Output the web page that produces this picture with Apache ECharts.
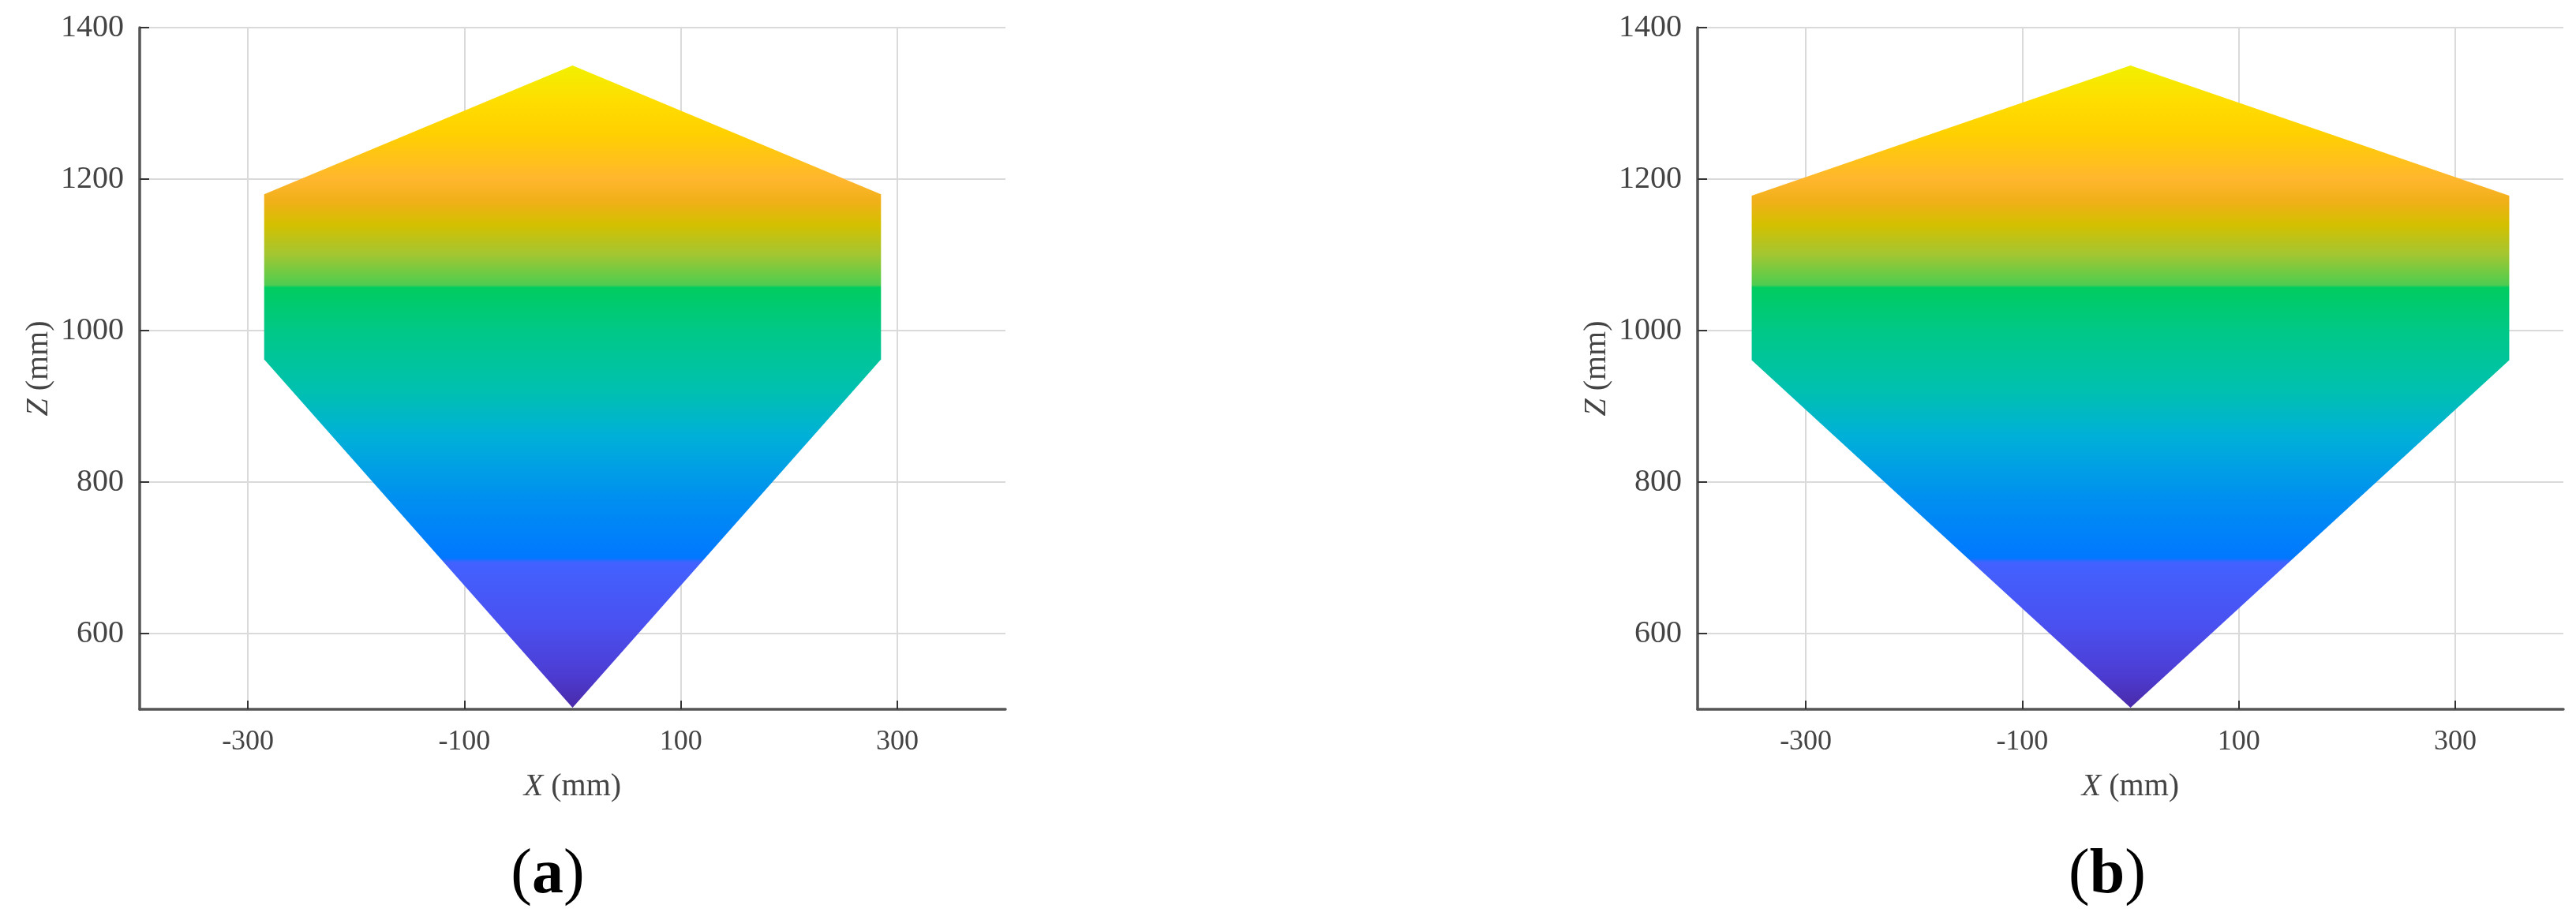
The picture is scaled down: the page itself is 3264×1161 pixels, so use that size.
<!DOCTYPE html>
<html>
<head>
<meta charset="utf-8">
<script src="https://cdn.jsdelivr.net/npm/echarts@6/dist/echarts.min.js"></script>
<style>
html,body{margin:0;padding:0;background:#fff;}
#c{width:3264px;height:1161px;}
</style>
</head>
<body>
<div id="c"></div>
<script>
// ---- data ----
const panelLabels = ['a', 'b'];
// polygon vertices (X, Z) in mm
const xA = [0, 285, 285, 0, -285, -285];
const zA = [1350, 1180, 962, 502, 962, 1180];
const xB = [0, 350, 350, 0, -350, -350];
const zB = [1350, 1178, 961, 502, 961, 1178];
const xTicks = [-300, -100, 100, 300];
const zTicks = [600, 800, 1000, 1200, 1400];
// colour map by Z value
const colorZ = [1350, 1300, 1260, 1200, 1170, 1140, 1100, 1070, 1060, 1057, 1000, 920, 860, 780, 700, 694, 610, 545, 502];
const colorC = ['#f2f000', '#ffdc00', '#ffd000', '#ffb62e', '#f0b018', '#d4c000', '#a2c632', '#62cc48', '#4fcb52', '#00cc60', '#00c886', '#00c0b0', '#00b0d8', '#0090f0', '#0078ff', '#4262ff', '#4a50f0', '#4c3cd2', '#4a2aa8'];

const chart = echarts.init(document.getElementById('c'), null, {renderer: 'canvas'});

const FONT = 'Liberation Serif';
const gridsPx = [{left: 177, top: 35, width: 1097, height: 864}, {left: 2151, top: 35, width: 1097, height: 864}];
const plain = v => String(v);

function makeX(i) {
  return {
    type: 'value', gridIndex: i, min: -400, max: 400,
    axisLine: {show: true, onZero: false, lineStyle: {color: '#555', width: 3.5}},
    axisTick: {show: true, inside: true, length: 11, customValues: xTicks, lineStyle: {color: '#333', width: 2}},
    axisLabel: {customValues: xTicks, formatter: plain, fontFamily: FONT, fontSize: 36, color: '#444', margin: 24},
    splitLine: {show: true, lineStyle: {color: '#dadada', width: 2}},
    name: '{i|X} (mm)', nameLocation: 'middle', nameGap: 78,
    nameTextStyle: {fontFamily: FONT, fontSize: 40, color: '#444',
      rich: {i: {fontFamily: FONT, fontSize: 40, fontStyle: 'italic', color: '#444'}}}
  };
}
function makeY(i) {
  return {
    type: 'value', gridIndex: i, min: 500, max: 1400,
    axisLine: {show: true, onZero: false, lineStyle: {color: '#555', width: 3.5}},
    axisTick: {show: true, inside: true, length: 12, customValues: zTicks, lineStyle: {color: '#333', width: 2}},
    axisLabel: {customValues: zTicks, formatter: plain, fontFamily: FONT, fontSize: 40, color: '#444', margin: 20},
    splitLine: {show: true, lineStyle: {color: '#dadada', width: 2}},
    name: '{i|Z} (mm)', nameLocation: 'middle', nameGap: 108,
    nameTextStyle: {fontFamily: FONT, fontSize: 40, color: '#444',
      rich: {i: {fontFamily: FONT, fontSize: 40, fontStyle: 'italic', color: '#444'}}}
  };
}

function polySeries(i, xs, zs) {
  const data = xs.map((x, k) => [x, zs[k]]);
  return {
    type: 'custom', xAxisIndex: i, yAxisIndex: i, data: data, silent: true,
    renderItem: function (params, api) {
      if (params.dataIndex !== 0) return null;
      const pts = data.map(d => api.coord(d));
      const top = api.coord([0, colorZ[0]])[1];
      const bot = api.coord([0, colorZ[colorZ.length - 1]])[1];
      const span = colorZ[0] - colorZ[colorZ.length - 1];
      const stops = colorZ.map((z, k) => ({offset: (colorZ[0] - z) / span, color: colorC[k]}));
      return {
        type: 'polygon',
        shape: {points: pts},
        style: {fill: new echarts.graphic.LinearGradient(0, top, 0, bot, stops, true), stroke: null}
      };
    }
  };
}

function panelText(x, label) {
  return {type: 'text', x: x, y: 1110, style: {
    text: '{p|(}{b|' + label + '}{p|)}', textAlign: 'center', textVerticalAlign: 'middle',
    fontFamily: FONT, fontSize: 80, fill: '#000',
    rich: {
      p: {fontWeight: 'normal', fontSize: 80, fontFamily: FONT, fill: '#000'},
      b: {fontWeight: 'bold', fontSize: 80, fontFamily: FONT, fill: '#000'}
    }}};
}

const option = {
  backgroundColor: '#fff',
  animation: false,
  grid: gridsPx.map(g => Object.assign({containLabel: false}, g)),
  xAxis: [makeX(0), makeX(1)],
  yAxis: [makeY(0), makeY(1)],
  series: [polySeries(0, xA, zA), polySeries(1, xB, zB)],
  graphic: [panelText(694, panelLabels[0]), panelText(2670, panelLabels[1])]
};
chart.setOption(option);
</script>
</body>
</html>
